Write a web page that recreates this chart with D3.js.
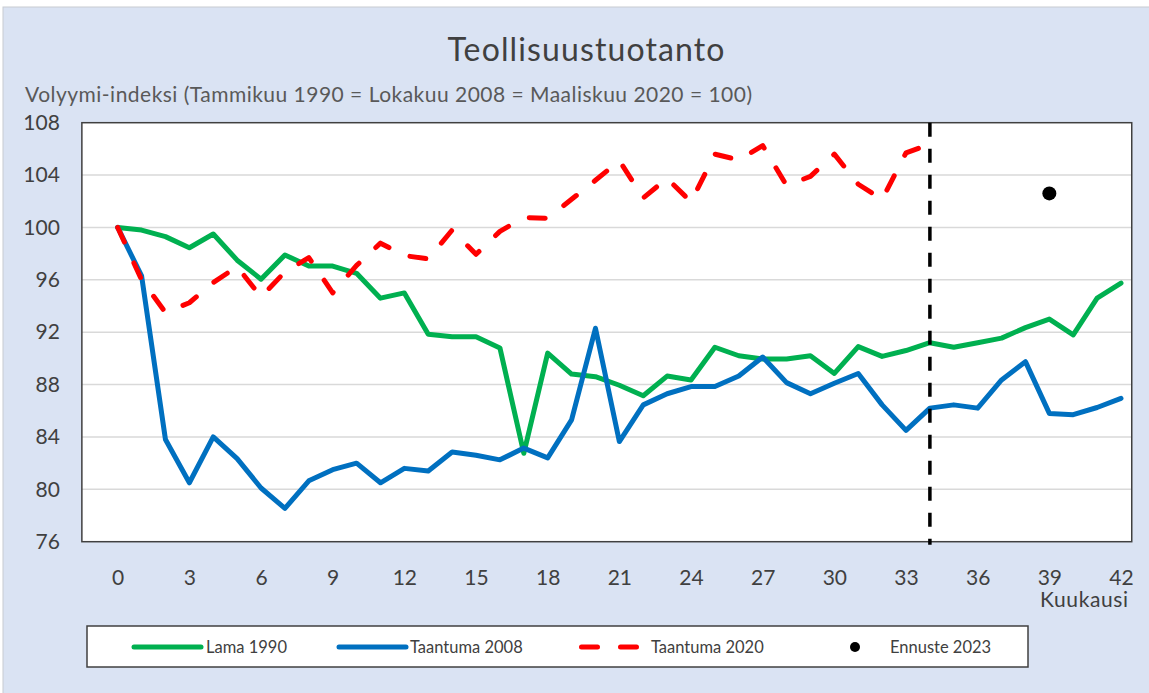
<!DOCTYPE html>
<html>
<head>
<meta charset="utf-8">
<script src="https://cdn.jsdelivr.net/npm/d3@7"></script>
<style>
  body { margin: 0; background: #fff; }
  svg { display: block; font-family: Lato, "Open Sans", sans-serif; }
</style>
</head>
<body>
<div id="chart"></div>
<script>
// months 0..42
var months = d3.range(0, 43);

var lama1990 = [100, 99.8, 99.3, 98.45, 99.5, 97.5, 96.05, 97.9, 97.05, 97.05,
  96.5, 94.6, 95.0, 91.85, 91.65, 91.65, 90.8, 82.75, 90.4, 88.8,
  88.6, 87.95, 87.15, 88.65, 88.35, 90.85, 90.2, 89.95, 89.95, 90.2,
  88.85, 90.9, 90.15, 90.6, 91.2, 90.85, 91.2, 91.55, 92.35, 93.0,
  91.8, 94.6, 95.75];

var taantuma2008 = [100, 96.3, 83.8, 80.5, 84.0, 82.35, 80.1, 78.55, 80.65, 81.5,
  82.0, 80.5, 81.6, 81.4, 82.85, 82.6, 82.25, 83.15, 82.4, 85.3,
  92.3, 83.65, 86.45, 87.3, 87.85, 87.85, 88.65, 90.1, 88.15, 87.3,
  88.1, 88.85, 86.45, 84.5, 86.2, 86.45, 86.2, 88.35, 89.75, 85.8,
  85.7, 86.25, 86.95];

var taantuma2020 = [100, 96.0, 93.5, 94.25, 95.8, 97.0, 94.7, 96.6, 97.7, 95.0,
  97.1, 98.8, 97.85, 97.6, 99.8, 97.95, 99.7, 100.75, 100.7, 102.15,
  103.6, 105.1, 102.25, 103.75, 101.95, 105.6, 105.15, 106.25, 103.2, 103.9,
  105.6, 103.3, 102.15, 105.7, 106.35];

var ennuste = [{ month: 39, value: 102.6 }];
var cutMonth = 34;

var yTicks = [76, 80, 84, 88, 92, 96, 100, 104, 108];
var xTicks = d3.range(0, 43, 3);

var svgWidth = 1149;
var svgHeight = 693;

var svg = d3.select("#chart")
  .append("svg")
  .attr("width", svgWidth)
  .attr("height", svgHeight);

// chart background
svg.append("rect")
  .attr("x", 3).attr("y", 7)
  .attr("width", svgWidth + 10).attr("height", svgHeight)
  .attr("fill", "#dae3f3")
  .attr("stroke", "#c8ccd2")
  .attr("stroke-width", 1);

var x = d3.scaleLinear().domain([0, 42]).range([117.7, 1121]);
var y = d3.scaleLinear().domain([76, 108]).range([541.7, 122.7]);

// plot area
svg.append("rect")
  .attr("x", x(-1.5))
  .attr("y", y(108))
  .attr("width", x(42.45) - x(-1.5))
  .attr("height", y(76) - y(108))
  .attr("fill", "#fff");

// gridlines
svg.append("g")
  .selectAll("line")
  .data(yTicks.slice(1, -1))
  .enter()
  .append("line")
  .attr("x1", x(-1.5))
  .attr("x2", x(42.45))
  .attr("y1", d => y(d))
  .attr("y2", d => y(d))
  .attr("stroke", "#d9d9d9")
  .attr("stroke-width", 1.5);

// plot border
svg.append("rect")
  .attr("x", x(-1.5))
  .attr("y", y(108))
  .attr("width", x(42.45) - x(-1.5))
  .attr("height", y(76) - y(108))
  .attr("fill", "none")
  .attr("stroke", "#404040")
  .attr("stroke-width", 1.5);

// axes
var leftAxis = d3.axisLeft(y).tickValues(yTicks).tickSize(0).tickPadding(22);
var yAxis = svg.append("g")
  .attr("transform", `translate(${x(-1.5)}, 0)`)
  .call(leftAxis);
yAxis.select(".domain").remove();
yAxis.selectAll("text")
  .attr("font-size", 21)
  .attr("font-family", "Lato")
  .attr("fill", "#404040");

var bottomAxis = d3.axisBottom(x).tickValues(xTicks).tickSize(0).tickPadding(28);
var xAxis = svg.append("g")
  .attr("transform", `translate(0, ${y(76)})`)
  .call(bottomAxis);
xAxis.select(".domain").remove();
xAxis.selectAll("text")
  .attr("font-size", 21)
  .attr("font-family", "Lato")
  .attr("fill", "#404040");

svg.append("text")
  .attr("x", 1128)
  .attr("y", 607)
  .attr("text-anchor", "end")
  .attr("font-size", 21)
  .attr("fill", "#404040")
  .attr("textLength", 88)
  .text("Kuukausi");

// titles
svg.append("text")
  .attr("x", 586)
  .attr("y", 61)
  .attr("text-anchor", "middle")
  .attr("font-size", 32)
  .attr("fill", "#404040")
  .attr("textLength", 277)
  .text("Teollisuustuotanto");

svg.append("text")
  .attr("x", 25)
  .attr("y", 102)
  .attr("font-size", 21)
  .attr("fill", "#595959")
  .attr("textLength", 727)
  .text("Volyymi-indeksi (Tammikuu 1990 = Lokakuu 2008 = Maaliskuu 2020 = 100)");

// lines
var line = d3.line()
  .x((d, i) => x(months[i]))
  .y(d => y(d));

svg.append("path")
  .datum(lama1990)
  .attr("d", line)
  .attr("fill", "none")
  .attr("stroke", "#00b050")
  .attr("stroke-width", 5)
  .attr("stroke-linejoin", "round")
  .attr("stroke-linecap", "round");

svg.append("path")
  .datum(taantuma2008)
  .attr("d", line)
  .attr("fill", "none")
  .attr("stroke", "#0070c0")
  .attr("stroke-width", 5)
  .attr("stroke-linejoin", "round")
  .attr("stroke-linecap", "round");

svg.append("path")
  .datum(taantuma2020)
  .attr("d", line)
  .attr("fill", "none")
  .attr("stroke", "#ff0000")
  .attr("stroke-width", 5)
  .attr("stroke-dasharray", "16,23")
  .attr("stroke-linejoin", "round")
  .attr("stroke-linecap", "round");

// vertical marker at latest month
svg.append("line")
  .attr("x1", x(cutMonth))
  .attr("x2", x(cutMonth))
  .attr("y1", y(108))
  .attr("y2", y(76) + 3)
  .attr("stroke", "#000")
  .attr("stroke-width", 3.5)
  .attr("stroke-dasharray", "14,12");

svg.selectAll(".forecast")
  .data(ennuste)
  .enter()
  .append("circle")
  .attr("class", "forecast")
  .attr("cx", d => x(d.month))
  .attr("cy", d => y(d.value))
  .attr("r", 7)
  .attr("fill", "#000");

// legend
var legend = svg.append("g");
legend.append("rect")
  .attr("x", 87).attr("y", 626)
  .attr("width", 941).attr("height", 41)
  .attr("fill", "#fff")
  .attr("stroke", "#404040")
  .attr("stroke-width", 1.5);

var legendItems = [
  { label: "Lama 1990", color: "#00b050", type: "line", x: 132, tx: 206 },
  { label: "Taantuma 2008", color: "#0070c0", type: "line", x: 337, tx: 410 },
  { label: "Taantuma 2020", color: "#ff0000", type: "dash", x: 579, tx: 651 },
  { label: "Ennuste 2023", color: "#000", type: "dot", x: 855, tx: 890 }
];

legendItems.forEach(function(item) {
  if (item.type === "line") {
    legend.append("line")
      .attr("x1", item.x + 2).attr("x2", item.x + 69)
      .attr("y1", 647).attr("y2", 647)
      .attr("stroke", item.color)
      .attr("stroke-width", 5)
      .attr("stroke-linecap", "round");
  } else if (item.type === "dash") {
    legend.append("line")
      .attr("x1", item.x + 2.5).attr("x2", item.x + 61)
      .attr("y1", 647).attr("y2", 647)
      .attr("stroke", item.color)
      .attr("stroke-width", 5)
      .attr("stroke-dasharray", "16,23")
      .attr("stroke-linecap", "round");
  } else {
    legend.append("circle")
      .attr("cx", item.x).attr("cy", 647)
      .attr("r", 5)
      .attr("fill", item.color);
  }
  legend.append("text")
    .attr("x", item.tx)
    .attr("y", 653)
    .attr("font-size", 16.5)
    .attr("fill", "#404040")
    .text(item.label);
});
</script>
</body>
</html>
